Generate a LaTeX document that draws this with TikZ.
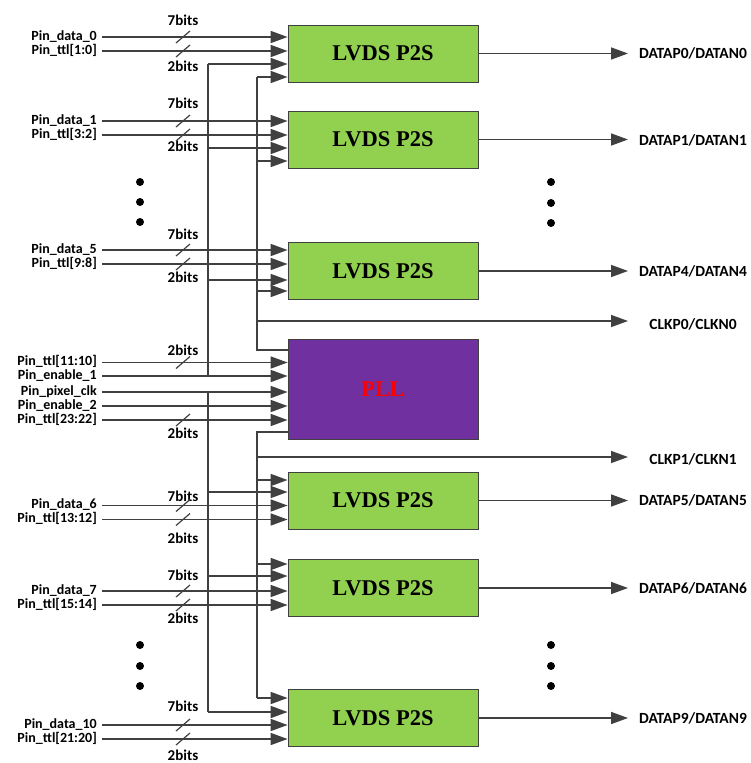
\documentclass[tikz,border=0pt]{standalone}
\usepackage{fontspec}
\setmainfont{Liberation Serif}
\newfontfamily\carlito{Carlito}
\usepackage{tikz}
\usetikzlibrary{arrows.meta, positioning, calc}
\definecolor{vertp}{RGB}{146,208,80}
\definecolor{violetpll}{RGB}{112,48,160}
\definecolor{gris}{RGB}{64,64,64}

\begin{document}
\begin{tikzpicture}[
		x=1pt, y=-1pt,
		p2s/.style={draw=gris, fill=vertp, line width=0.8pt,
			minimum width=190pt, minimum height=57pt,
			font=\fontsize{22.5}{24}\selectfont\bfseries, text centered},
		pllbox/.style={draw=gris, fill=violetpll, line width=0.8pt,
			minimum width=190pt, minimum height=100pt,
			font=\fontsize{22.5}{24}\selectfont\bfseries, text=red},
		pin/.style={anchor=east, inner xsep=5pt, inner ysep=0pt,
			text height=8.5pt, text depth=2pt,
			font=\carlito\bfseries\fontsize{14}{15}\selectfont},
		sortie/.style={font=\carlito\bfseries\fontsize{15.5}{16}\selectfont},
		bits/.style={inner sep=0pt, font=\carlito\bfseries\fontsize{15}{15}\selectfont},
		fil/.style={draw=gris, line width=1.6pt},
		barre/.style={draw=gris, line width=1.2pt},
		arr/.style={fil, -{Triangle[length=17pt, width=12pt]}},
		pt/.style={circle, fill=black, inner sep=0pt, minimum size=8pt},
		]
		\useasboundingbox (0,0) rectangle (750,763);
		
		\node[p2s] (b0) at (383,53.5) {LVDS P2S};
		\node[p2s] (b1) at (383,139.5) {LVDS P2S};
		\node[p2s] (b5) at (383,271) {LVDS P2S};
		\node[pllbox] (pll) at (383,389) {PLL};
		\node[p2s] (b6) at (383,500.5) {LVDS P2S};
		\node[p2s] (b7) at (383,588) {LVDS P2S};
		\node[p2s] (b10) at (383,718) {LVDS P2S};
		
		\node[pin] (d0) at (102,37) {Pin\_data\_0};
		\node[pin] (t0) at (102,51) {Pin\_ttl[1:0]};
		\node[pin] (d1) at (102,121) {Pin\_data\_1};
		\node[pin] (t1) at (102,135) {Pin\_ttl[3:2]};
		\node[pin] (d5) at (102,250) {Pin\_data\_5};
		\node[pin] (t5) at (102,264) {Pin\_ttl[9:8]};
		\node[pin] (tp1) at (102,362.5) {Pin\_ttl[11:10]};
		\node[pin] (en1) at (102,376) {Pin\_enable\_1};
		\node[pin] (pclk) at (102,392) {Pin\_pixel\_clk};
		\node[pin] (en2) at (102,406) {Pin\_enable\_2};
		\node[pin] (tp2) at (102,420) {Pin\_ttl[23:22]};
		\node[pin] (d6) at (102,505.5) {Pin\_data\_6};
		\node[pin] (t6) at (102,519.5) {Pin\_ttl[13:12]};
		\node[pin] (d7) at (102,591) {Pin\_data\_7};
		\node[pin] (t7) at (102,605) {Pin\_ttl[15:14]};
		\node[pin] (d10) at (102,725) {Pin\_data\_10};
		\node[pin] (t10) at (102,739) {Pin\_ttl[21:20]};
		
		\node[bits] (s0a) at (183,20) {7bits};
		\node[bits] (s0b) at (183,66) {2bits};
		\node[bits] (s1a) at (183,103) {7bits};
		\node[bits] (s1b) at (183,146) {2bits};
		\node[bits] (s5a) at (183,234) {7bits};
		\node[bits] (s5b) at (183,277) {2bits};
		\node[bits] (sp1) at (183,350) {2bits};
		\node[bits] (sp2) at (183,433) {2bits};
		\node[bits] (s6a) at (183,496.5) {7bits};
		\node[bits] (s6b) at (183,538) {2bits};
		\node[bits] (s7a) at (183,575) {7bits};
		\node[bits] (s7b) at (183,618) {2bits};
		\node[bits] (s10a) at (183,706) {7bits};
		\node[bits] (s10b) at (183,755) {2bits};
		
		\coordinate (tip) at (628,0);
		\node[sortie] (o0) at (693,53) {DATAP0/DATAN0};
		\node[sortie] (o1) at (693,140) {DATAP1/DATAN1};
		\node[sortie] (o5) at (693,271) {DATAP4/DATAN4};
		\node[sortie] (ck0) at (693,324) {CLKP0/CLKN0};
		\node[sortie] (ck1) at (693,459) {CLKP1/CLKN1};
		\node[sortie] (o6) at (693,500) {DATAP5/DATAN5};
		\node[sortie] (o7) at (693,588) {DATAP6/DATAN6};
		\node[sortie] (o10) at (693,718) {DATAP9/DATAN9};
		
		\node[pt] (g1) at (140,182) {};
		\node[pt] (g2) at (140,202) {};
		\node[pt] (g3) at (140,222) {};
		\node[pt] (g4) at (140,645) {};
		\node[pt] (g5) at (140,666) {};
		\node[pt] (g6) at (140,686) {};
		\node[pt] (r1) at (551,182) {};
		\node[pt] (r2) at (551,203) {};
		\node[pt] (r3) at (551,223) {};
		\node[pt] (r4) at (551,645) {};
		\node[pt] (r5) at (551,666) {};
		\node[pt] (r6) at (551,686) {};
		
		\draw[arr] (d0.east) -- (d0 -| b0.west);
		\draw[arr] (t0.east) -- (t0 -| b0.west);
		\draw[arr] (d1.east) -- (d1 -| b1.west);
		\draw[arr] (t1.east) -- (t1 -| b1.west);
		\draw[arr] (d5.east) -- (d5 -| b5.west);
		\draw[arr] (t5.east) -- (t5 -| b5.west);
		\draw[arr] (tp1.east) -- (tp1 -| pll.west);
		\draw[arr] (en1.east) -- (en1 -| pll.west);
		\draw[arr] (pclk.east) -- (pclk -| pll.west);
		\draw[arr] (en2.east) -- (en2 -| pll.west);
		\draw[arr] (tp2.east) -- (tp2 -| pll.west);
		\draw[arr] (d6.east) -- (d6 -| b6.west);
		\draw[arr] (t6.east) -- (t6 -| b6.west);
		\draw[arr] (d7.east) -- (d7 -| b7.west);
		\draw[arr] (t7.east) -- (t7 -| b7.west);
		\draw[arr] (d10.east) -- (d10 -| b10.west);
		\draw[arr] (t10.east) -- (t10 -| b10.west);
		
		\draw[barre] (d0 -| s0a) ++(-7,6) -- ++(14,-12);
		\draw[barre] (t0 -| s0a) ++(-7,6) -- ++(14,-12);
		\draw[barre] (d1 -| s1a) ++(-7,6) -- ++(14,-12);
		\draw[barre] (t1 -| s1a) ++(-7,6) -- ++(14,-12);
		\draw[barre] (d5 -| s5a) ++(-7,6) -- ++(14,-12);
		\draw[barre] (t5 -| s5a) ++(-7,6) -- ++(14,-12);
		\draw[barre] (tp1 -| sp1) ++(-7,6) -- ++(14,-12);
		\draw[barre] (tp2 -| sp2) ++(-7,6) -- ++(14,-12);
		\draw[barre] (d6 -| s6a) ++(-7,6) -- ++(14,-12);
		\draw[barre] (t6 -| s6a) ++(-7,6) -- ++(14,-12);
		\draw[barre] (d7 -| s7a) ++(-7,6) -- ++(14,-12);
		\draw[barre] (t7 -| s7a) ++(-7,6) -- ++(14,-12);
		\draw[barre] (d10 -| s10a) ++(-7,6) -- ++(14,-12);
		\draw[barre] (t10 -| s10a) ++(-7,6) -- ++(14,-12);
		
		\coordinate (h0) at (208,64);
		\coordinate (h1) at (208,148);
		\coordinate (h5) at (208,280);
		\coordinate (h6) at (208,492);
		\coordinate (h7) at (208,576);
		\coordinate (h10) at (208,712);
		\draw[fil] (h0) -- (h0 |- en1);
		\draw[fil] (h10 |- pclk) -- (h10);
		\draw[arr] (h0) -- (h0 -| b0.west);
		\draw[arr] (h1) -- (h1 -| b1.west);
		\draw[arr] (h5) -- (h5 -| b5.west);
		\draw[arr] (h6) -- (h6 -| b6.west);
		\draw[arr] (h7) -- (h7 -| b7.west);
		\draw[arr] (h10) -- (h10 -| b10.west);
		
		\coordinate (k0) at (257,77);
		\coordinate (k1) at (257,161);
		\coordinate (k5) at (257,291);
		\coordinate (kc0) at (257,321);
		\coordinate (kp0) at (257,350);
		\coordinate (kp1) at (257,432);
		\coordinate (kc1) at (257,457);
		\coordinate (k6) at (257,480);
		\coordinate (k7) at (257,564);
		\coordinate (k10) at (257,698);
		\draw[fil] (k0) -- (kp0) -- (kp0 -| pll.west);
		\draw[fil] (kp1 -| pll.west) -- (kp1) -- (k10);
		\draw[arr] (k0) -- (k0 -| b0.west);
		\draw[arr] (k1) -- (k1 -| b1.west);
		\draw[arr] (k5) -- (k5 -| b5.west);
		\draw[arr] (k6) -- (k6 -| b6.west);
		\draw[arr] (k7) -- (k7 -| b7.west);
		\draw[arr] (k10) -- (k10 -| b10.west);
		\draw[arr] (kc0) -- (kc0 -| tip);
		\draw[arr] (kc1) -- (kc1 -| tip);
		
		\draw[arr] (b0.east) -- (b0.east -| tip);
		\draw[arr] (b1.east) -- (b1.east -| tip);
		\draw[arr] (b5.east) -- (b5.east -| tip);
		\draw[arr] (b6.east) -- (b6.east -| tip);
		\draw[arr] (b7.east) -- (b7.east -| tip);
		\draw[arr] (b10.east) -- (b10.east -| tip);
	\end{tikzpicture}
\end{document}
